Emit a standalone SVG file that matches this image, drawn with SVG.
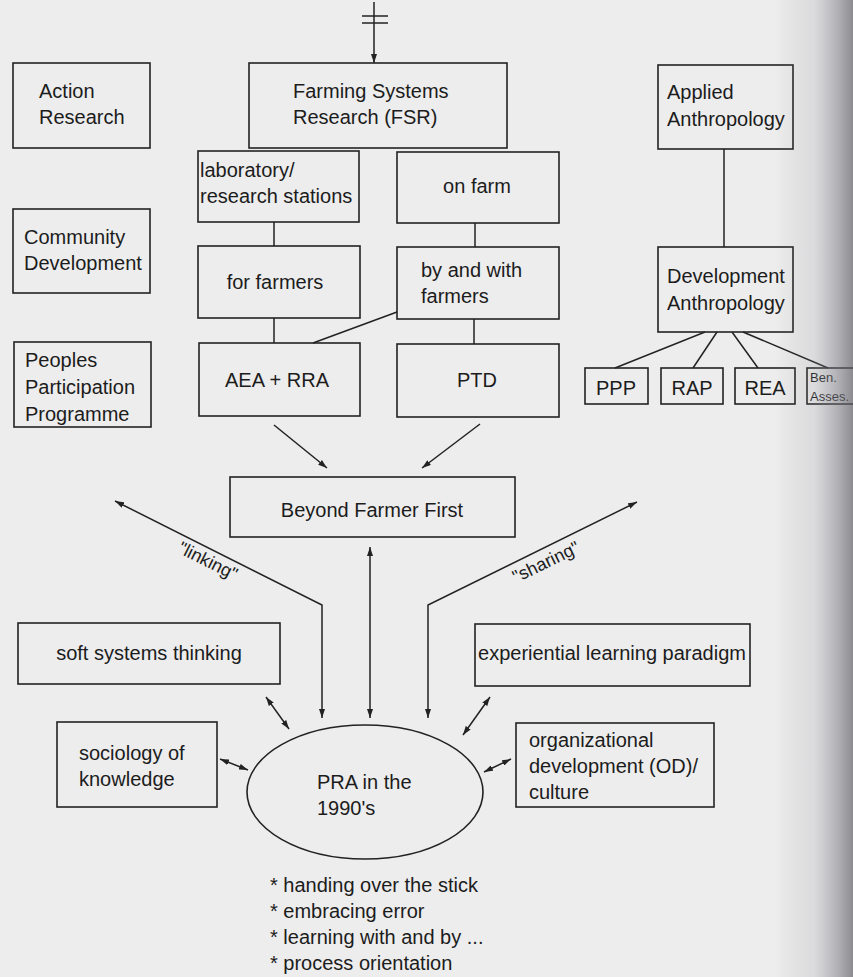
<svg xmlns="http://www.w3.org/2000/svg" width="853" height="977" viewBox="0 0 853 977">
<style>
.b{fill:none;stroke:#222;stroke-width:1.6}
.c{fill:none;stroke:#222;stroke-width:1.5}
.t{font-family:"Liberation Sans",Arial,sans-serif;font-size:20px;fill:#1c1c1c}
.m{text-anchor:middle}
.s{font-size:13px}
.l{font-size:18px}
</style>
<defs>
<marker id="ah" viewBox="0 0 10 10" refX="10" refY="5" markerWidth="9" markerHeight="6" markerUnits="userSpaceOnUse" orient="auto-start-reverse" preserveAspectRatio="none">
<path d="M0,0 L10,5 L0,10 z" fill="#222"/>
</marker>
<linearGradient id="sh" x1="0" y1="0" x2="1" y2="0">
<stop offset="0" stop-color="#6e6e78" stop-opacity="0"/>
<stop offset="0.5" stop-color="#8a8a94" stop-opacity="0.18"/>
<stop offset="0.75" stop-color="#7a7a84" stop-opacity="0.45"/>
<stop offset="1" stop-color="#606068" stop-opacity="0.7"/>
</linearGradient>
</defs>
<rect x="0" y="0" width="853" height="977" fill="#ededed"/>

<g id="connectors">
<line class="c" x1="374" y1="2" x2="374" y2="63" marker-end="url(#ah)"/>
<line class="c" x1="362" y1="16" x2="388" y2="16"/>
<line class="c" x1="362" y1="23" x2="388" y2="23"/>
<line class="c" x1="274" y1="222" x2="274" y2="246"/>
<line class="c" x1="475" y1="223" x2="475" y2="247"/>
<line class="c" x1="274" y1="318" x2="274" y2="343"/>
<line class="c" x1="474" y1="319" x2="474" y2="344"/>
<line class="c" x1="397" y1="312" x2="313" y2="343"/>
<line class="c" x1="724" y1="149" x2="724" y2="247"/>
<line class="c" x1="705" y1="332" x2="615" y2="368"/>
<line class="c" x1="717" y1="332" x2="693" y2="368"/>
<line class="c" x1="732" y1="332" x2="758" y2="368"/>
<line class="c" x1="743" y1="332" x2="828" y2="368"/>
<line class="c" x1="274" y1="425" x2="327" y2="468" marker-end="url(#ah)"/>
<line class="c" x1="480" y1="424" x2="422" y2="468" marker-end="url(#ah)"/>
<line class="c" x1="370" y1="547" x2="370" y2="718" marker-start="url(#ah)" marker-end="url(#ah)"/>
<polyline class="c" points="322,718 322,605 115,501" marker-start="url(#ah)" marker-end="url(#ah)"/>
<polyline class="c" points="428,718 428,605 637,502" marker-start="url(#ah)" marker-end="url(#ah)"/>
<line class="c" x1="266" y1="697" x2="289" y2="729" marker-start="url(#ah)" marker-end="url(#ah)"/>
<line class="c" x1="220" y1="759" x2="248" y2="770" marker-start="url(#ah)" marker-end="url(#ah)"/>
<line class="c" x1="490" y1="697" x2="463" y2="735" marker-start="url(#ah)" marker-end="url(#ah)"/>
<line class="c" x1="511" y1="759" x2="484" y2="772" marker-start="url(#ah)" marker-end="url(#ah)"/>
<text class="t l m" x="208" y="567" transform="rotate(26.7 208 561)">"linking"</text>
<text class="t l m" x="546" y="568" transform="rotate(-26 546 562)">"sharing"</text>
</g>

<g id="action-research"><rect class="b" x="13" y="63" width="137" height="85"/><text class="t" x="39" y="98">Action</text><text class="t" x="39" y="124">Research</text></g>
<g id="community-development"><rect class="b" x="13" y="209" width="137" height="84"/><text class="t" x="24" y="244">Community</text><text class="t" x="24" y="270">Development</text></g>
<g id="peoples-participation"><rect class="b" x="14" y="342" width="137" height="85"/><text class="t" x="25" y="367">Peoples</text><text class="t" x="25" y="394">Participation</text><text class="t" x="25" y="421">Programme</text></g>

<g id="fsr"><rect class="b" x="249" y="63" width="258" height="85"/><text class="t" x="293" y="98">Farming Systems</text><text class="t" x="293" y="124">Research (FSR)</text></g>
<g id="laboratory"><rect class="b" x="198" y="151" width="161" height="71"/><text class="t" x="200" y="177">laboratory/</text><text class="t" x="200" y="203">research stations</text></g>
<g id="on-farm"><rect class="b" x="397" y="152" width="162" height="71"/><text class="t m" x="477" y="193">on farm</text></g>
<g id="for-farmers"><rect class="b" x="198" y="246" width="162" height="72"/><text class="t m" x="275" y="289">for farmers</text></g>
<g id="by-and-with"><rect class="b" x="397" y="247" width="162" height="72"/><text class="t" x="421" y="277">by and with</text><text class="t" x="421" y="303">farmers</text></g>
<g id="aea-rra"><rect class="b" x="199" y="343" width="161" height="73"/><text class="t m" x="277" y="387">AEA + RRA</text></g>
<g id="ptd"><rect class="b" x="397" y="344" width="162" height="73"/><text class="t m" x="477" y="387">PTD</text></g>

<g id="applied-anthropology"><rect class="b" x="658" y="65" width="135" height="84"/><text class="t" x="667" y="99">Applied</text><text class="t" x="667" y="126">Anthropology</text></g>
<g id="development-anthropology"><rect class="b" x="658" y="247" width="135" height="85"/><text class="t" x="667" y="283">Development</text><text class="t" x="667" y="310">Anthropology</text></g>
<g id="ppp"><rect class="b" x="585" y="368" width="63" height="36"/><text class="t m" x="616" y="395">PPP</text></g>
<g id="rap"><rect class="b" x="661" y="368" width="62" height="36"/><text class="t m" x="692" y="395">RAP</text></g>
<g id="rea"><rect class="b" x="735" y="368" width="60" height="36"/><text class="t m" x="765" y="395">REA</text></g>
<g id="ben-asses"><rect class="b" x="807" y="368" width="60" height="36"/><text class="t s" x="810" y="382">Ben.</text><text class="t s" x="810" y="401">Asses.</text></g>

<g id="beyond-farmer-first"><rect class="b" x="230" y="477" width="285" height="60"/><text class="t m" x="372" y="517">Beyond Farmer First</text></g>
<g id="soft-systems"><rect class="b" x="18" y="623" width="262" height="61"/><text class="t m" x="149" y="660">soft systems thinking</text></g>
<g id="experiential-learning"><rect class="b" x="475" y="624" width="275" height="62"/><text class="t m" x="612" y="660">experiential learning paradigm</text></g>
<g id="sociology-of-knowledge"><rect class="b" x="57" y="722" width="160" height="85"/><text class="t" x="79" y="760">sociology of</text><text class="t" x="79" y="786">knowledge</text></g>
<g id="organizational-development"><rect class="b" x="516" y="723" width="198" height="84"/><text class="t" x="529" y="747">organizational</text><text class="t" x="529" y="773">development (OD)/</text><text class="t" x="529" y="799">culture</text></g>
<g id="pra"><ellipse class="b" cx="365" cy="792" rx="118" ry="67"/><text class="t" x="317" y="789">PRA in the</text><text class="t" x="317" y="815">1990's</text></g>

<g id="notes">
<text class="t" x="270" y="892">* handing over the stick</text>
<text class="t" x="270" y="918">* embracing error</text>
<text class="t" x="270" y="944">* learning with and by ...</text>
<text class="t" x="270" y="970">* process orientation</text>
</g>

<rect x="775" y="0" width="78" height="977" fill="url(#sh)"/>
</svg>
